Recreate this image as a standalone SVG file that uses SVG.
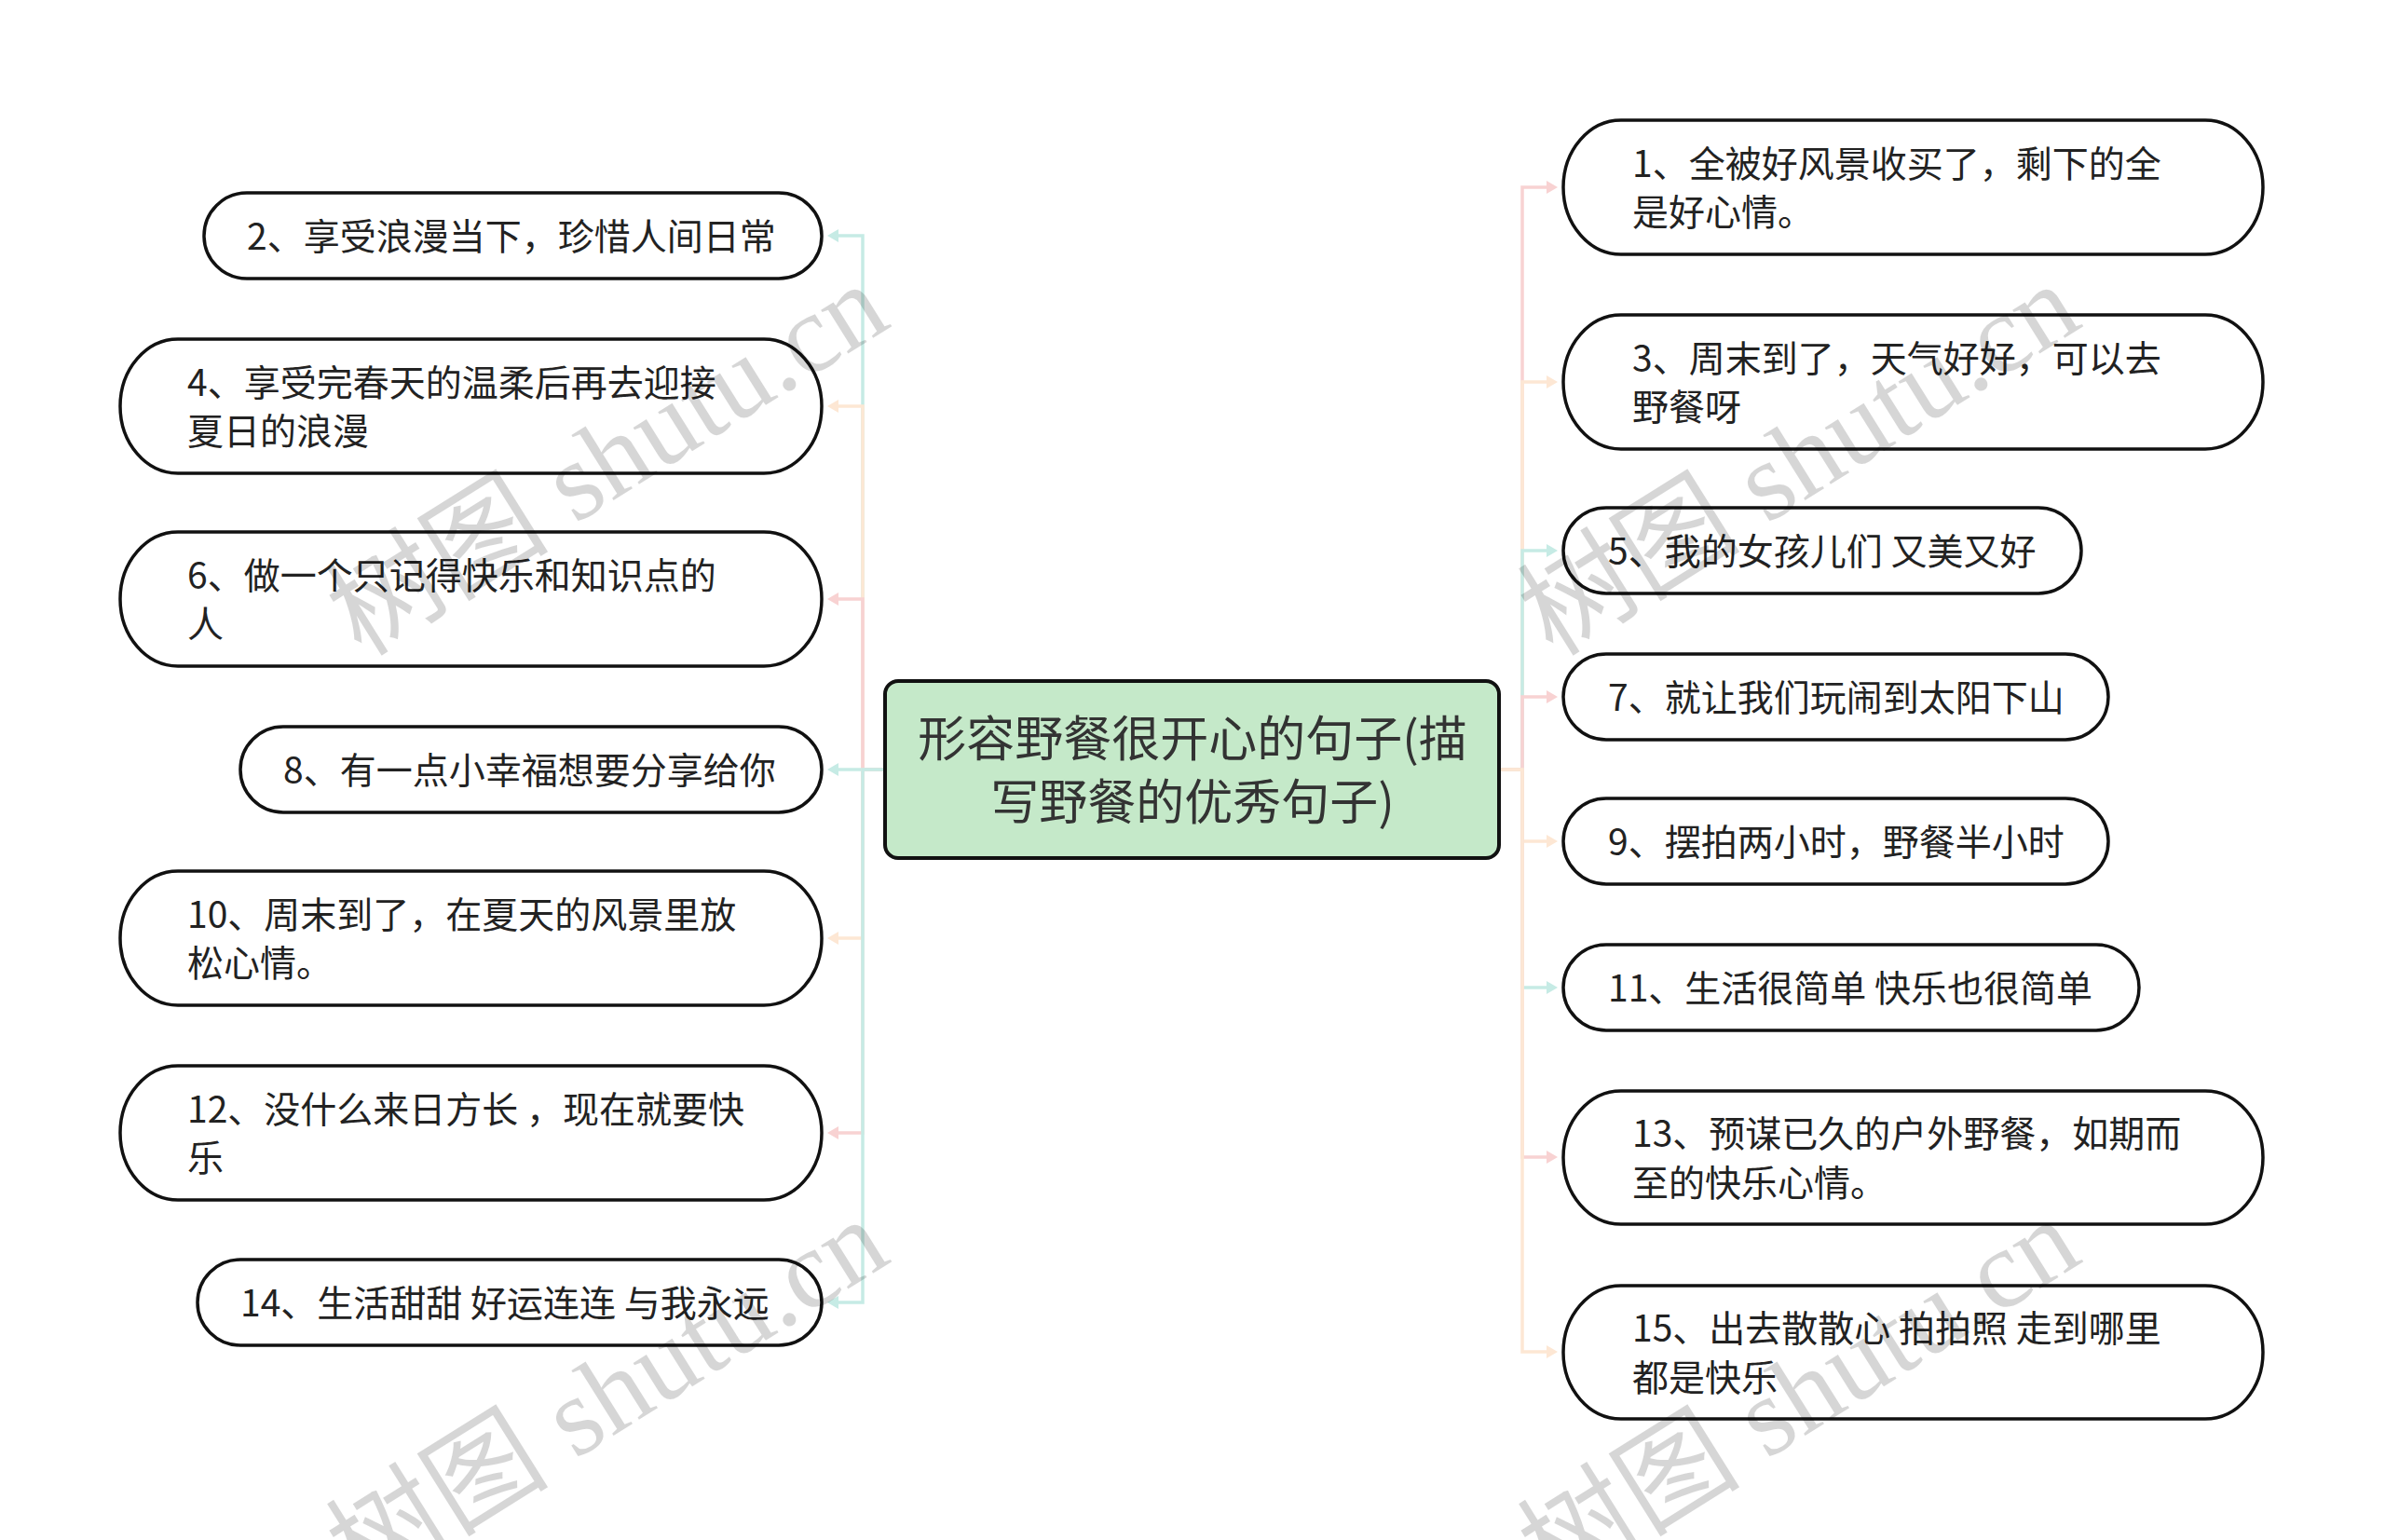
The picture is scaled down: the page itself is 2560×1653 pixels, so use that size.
<svg xmlns="http://www.w3.org/2000/svg" width="2560" height="1653" viewBox="0 0 2560 1653">
<style>
.node{fill:#ffffff;stroke:#111111;stroke-width:3.5}
.t{font-family:"Noto Sans CJK SC","Noto Sans",sans-serif;font-size:39px;fill:#222222}
.ct{font-family:"Noto Sans CJK SC","Noto Sans",sans-serif;font-size:52px;fill:#333333;text-anchor:middle}
.c{fill:none;stroke-width:3.5}
.teal{stroke:#c6ebe5}
.pink{stroke:#f8d2d2}
.peach{stroke:#fde7d4}
.wm{font-family:"Liberation Serif","Noto Sans CJK SC",serif;font-size:120px;fill:#000000;fill-opacity:0.16}
</style>
<defs>
<marker id="aT" viewBox="0 0 12 14" refX="2" refY="7" markerWidth="12" markerHeight="14" markerUnits="userSpaceOnUse" orient="auto"><path d="M0,0 L12,7 L0,14 z" fill="#c6ebe5"/></marker>
<marker id="aP" viewBox="0 0 12 14" refX="2" refY="7" markerWidth="12" markerHeight="14" markerUnits="userSpaceOnUse" orient="auto"><path d="M0,0 L12,7 L0,14 z" fill="#f8d2d2"/></marker>
<marker id="aO" viewBox="0 0 12 14" refX="2" refY="7" markerWidth="12" markerHeight="14" markerUnits="userSpaceOnUse" orient="auto"><path d="M0,0 L12,7 L0,14 z" fill="#fde7d4"/></marker>
</defs>
<rect width="2560" height="1653" fill="#ffffff"/>

<g id="connectors">
<path class="c teal" d="M950,826 H926 V253 H898" marker-end="url(#aT)"/>
<path class="c peach" d="M950,826 H926 V436 H898" marker-end="url(#aO)"/>
<path class="c pink" d="M950,826 H926 V643 H898" marker-end="url(#aP)"/>
<path class="c teal" d="M950,826 H926 V826 H898" marker-end="url(#aT)"/>
<path class="c peach" d="M950,826 H926 V1007 H898" marker-end="url(#aO)"/>
<path class="c pink" d="M950,826 H926 V1216 H898" marker-end="url(#aP)"/>
<path class="c teal" d="M950,826 H926 V1398 H898" marker-end="url(#aT)"/>

<path class="c pink" d="M1610,826 H1634 V201 H1662" marker-end="url(#aP)"/>
<path class="c peach" d="M1610,826 H1634 V410 H1662" marker-end="url(#aO)"/>
<path class="c teal" d="M1610,826 H1634 V591 H1662" marker-end="url(#aT)"/>
<path class="c pink" d="M1610,826 H1634 V748 H1662" marker-end="url(#aP)"/>
<path class="c peach" d="M1610,826 H1634 V903 H1662" marker-end="url(#aO)"/>
<path class="c teal" d="M1610,826 H1634 V1060 H1662" marker-end="url(#aT)"/>
<path class="c pink" d="M1610,826 H1634 V1242 H1662" marker-end="url(#aP)"/>
<path class="c peach" d="M1610,826 H1634 V1451 H1662" marker-end="url(#aO)"/>
</g>

<g id="root">
<rect x="950" y="731" width="659" height="190" rx="14" ry="14" fill="#c5e9c9" stroke="#111111" stroke-width="4"/>
<text class="ct" x="1280" y="812">形容野餐很开心的句子(描</text>
<text class="ct" x="1280" y="880">写野餐的优秀句子)</text>
</g>

<g id="n2"><rect class="node" x="219" y="207" width="663" height="92" rx="46" ry="46"/><text class="t" x="265" y="268">2、享受浪漫当下，珍惜人间日常</text></g>
<g id="n4"><rect class="node" x="129" y="364" width="753" height="144" rx="62" ry="72"/><text class="t" x="201" y="425">4、享受完春天的温柔后再去迎接</text><text class="t" x="201" y="477">夏日的浪漫</text></g>
<g id="n6"><rect class="node" x="129" y="571" width="753" height="144" rx="62" ry="72"/><text class="t" x="201" y="632">6、做一个只记得快乐和知识点的</text><text class="t" x="201" y="684">人</text></g>
<g id="n8"><rect class="node" x="258" y="780" width="624" height="92" rx="46" ry="46"/><text class="t" x="304" y="841">8、有一点小幸福想要分享给你</text></g>
<g id="n10"><rect class="node" x="129" y="935" width="753" height="144" rx="62" ry="72"/><text class="t" x="201" y="996">10、周末到了，在夏天的风景里放</text><text class="t" x="201" y="1048">松心情。</text></g>
<g id="n12"><rect class="node" x="129" y="1144" width="753" height="144" rx="62" ry="72"/><text class="t" x="201" y="1205">12、没什么来日方长 ，现在就要快</text><text class="t" x="201" y="1257">乐</text></g>
<g id="n14"><rect class="node" x="212" y="1352" width="670" height="92" rx="46" ry="46"/><text class="t" x="258" y="1413">14、生活甜甜 好运连连 与我永远</text></g>

<g id="n1"><rect class="node" x="1678" y="129" width="751" height="144" rx="62" ry="72"/><text class="t" x="1752" y="190">1、全被好风景收买了，剩下的全</text><text class="t" x="1752" y="242">是好心情。</text></g>
<g id="n3"><rect class="node" x="1678" y="338" width="751" height="144" rx="62" ry="72"/><text class="t" x="1752" y="399">3、周末到了，天气好好，可以去</text><text class="t" x="1752" y="451">野餐呀</text></g>
<g id="n5"><rect class="node" x="1678" y="545" width="556" height="92" rx="46" ry="46"/><text class="t" x="1726" y="606">5、我的女孩儿们 又美又好</text></g>
<g id="n7"><rect class="node" x="1678" y="702" width="585" height="92" rx="46" ry="46"/><text class="t" x="1726" y="763">7、就让我们玩闹到太阳下山</text></g>
<g id="n9"><rect class="node" x="1678" y="857" width="585" height="92" rx="46" ry="46"/><text class="t" x="1726" y="918">9、摆拍两小时，野餐半小时</text></g>
<g id="n11"><rect class="node" x="1678" y="1014" width="618" height="92" rx="46" ry="46"/><text class="t" x="1726" y="1075">11、生活很简单 快乐也很简单</text></g>
<g id="n13"><rect class="node" x="1678" y="1171" width="751" height="143" rx="62" ry="72"/><text class="t" x="1752" y="1231">13、预谋已久的户外野餐，如期而</text><text class="t" x="1752" y="1284">至的快乐心情。</text></g>
<g id="n15"><rect class="node" x="1678" y="1380" width="751" height="143" rx="62" ry="72"/><text class="t" x="1752" y="1440">15、出去散散心 拍拍照 走到哪里</text><text class="t" x="1752" y="1493">都是快乐</text></g>

<g id="watermark">
<text class="wm" transform="translate(388,706) rotate(-32)">树图 shutu.cn</text>
<text class="wm" transform="translate(388,1710) rotate(-32)">树图 shutu.cn</text>
<text class="wm" transform="translate(1667,706) rotate(-32)">树图 shutu.cn</text>
<text class="wm" transform="translate(1667,1710) rotate(-32)">树图 shutu.cn</text>
</g>
</svg>
